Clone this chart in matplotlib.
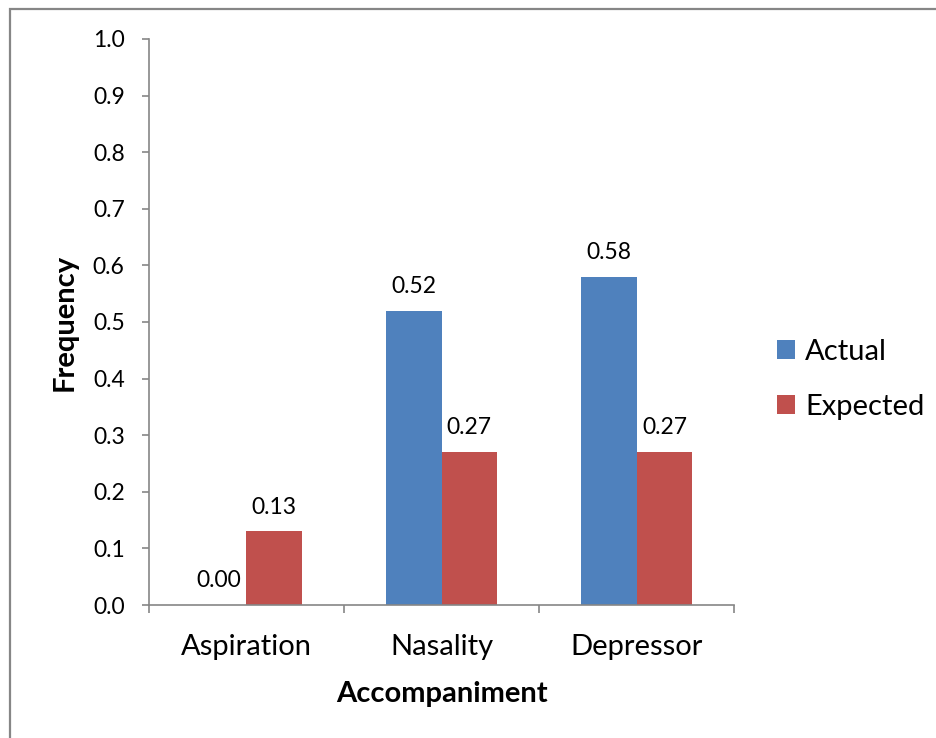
import numpy as np
import matplotlib
matplotlib.use("Agg")
import matplotlib.pyplot as plt
from matplotlib.patches import Rectangle

# ---- data ----
categories = ["Aspiration", "Nasality", "Depressor"]
actual = [0.00, 0.52, 0.58]
expected = [0.13, 0.27, 0.27]
series_names = ["Actual", "Expected"]
yticks = [0.0, 0.1, 0.2, 0.3, 0.4, 0.5, 0.6, 0.7, 0.8, 0.9, 1.0]

BLUE, RED, GREY = "#4F81BD", "#C0504D", "#868686"
plt.rcParams["font.family"] = ["Lato", "DejaVu Sans"]

fig = plt.figure(figsize=(9.37, 7.38), dpi=100)
ax = fig.add_axes([0.159, 0.1802, 0.6244, 0.767])

x = np.arange(len(categories))
w = 1 / 3.5  # excel gap width 150%
b1 = ax.bar(x - w / 2, actual, w, color=BLUE, label=series_names[0])
b2 = ax.bar(x + w / 2, expected, w, color=RED, label=series_names[1])
for bars in (b1, b2):
    ax.bar_label(bars, fmt="%.2f", padding=10, fontsize=16.5)

ax.set_xlim(-0.5, len(categories) - 0.5)
ax.set_ylim(0, 1.0)
ax.set_yticks(yticks)
ax.set_yticklabels([f"{t:.1f}" for t in yticks], fontsize=16.5)
ax.tick_params(axis="y", length=5, width=1.2, color=GREY, pad=12.5)

# category boundaries carry the tick marks, names sit in between
ax.set_xticks(np.arange(-0.5, len(categories), 1.0))
ax.set_xticklabels([])
ax.tick_params(axis="x", which="major", length=6, width=1.2, color=GREY)
ax.set_xticks(x, minor=True)
ax.set_xticklabels(categories, minor=True, fontsize=21)
ax.tick_params(axis="x", which="minor", length=0, pad=21)

for s in ("top", "right"):
    ax.spines[s].set_visible(False)
for s in ("left", "bottom"):
    ax.spines[s].set_color(GREY)
    ax.spines[s].set_linewidth(1.2)

ax.set_xlabel("Accompaniment", fontsize=21, fontweight="bold", labelpad=15)
ax.set_ylabel("Frequency", fontsize=21, fontweight="bold", labelpad=11)

fig.legend(handles=[b1, b2], loc="center left", bbox_to_anchor=(0.801, 0.486),
           frameon=False, fontsize=21, handlelength=0.62, handleheight=0.62,
           handletextpad=0.35, labelspacing=1.0)

# outer chart border
fig.patches.append(Rectangle((10 / 937, -0.01), 1.0, 1 - 9 / 738 + 0.01,
                             transform=fig.transFigure, fill=False,
                             edgecolor=GREY, linewidth=1.6))

fig.savefig("out.png", dpi=100)
